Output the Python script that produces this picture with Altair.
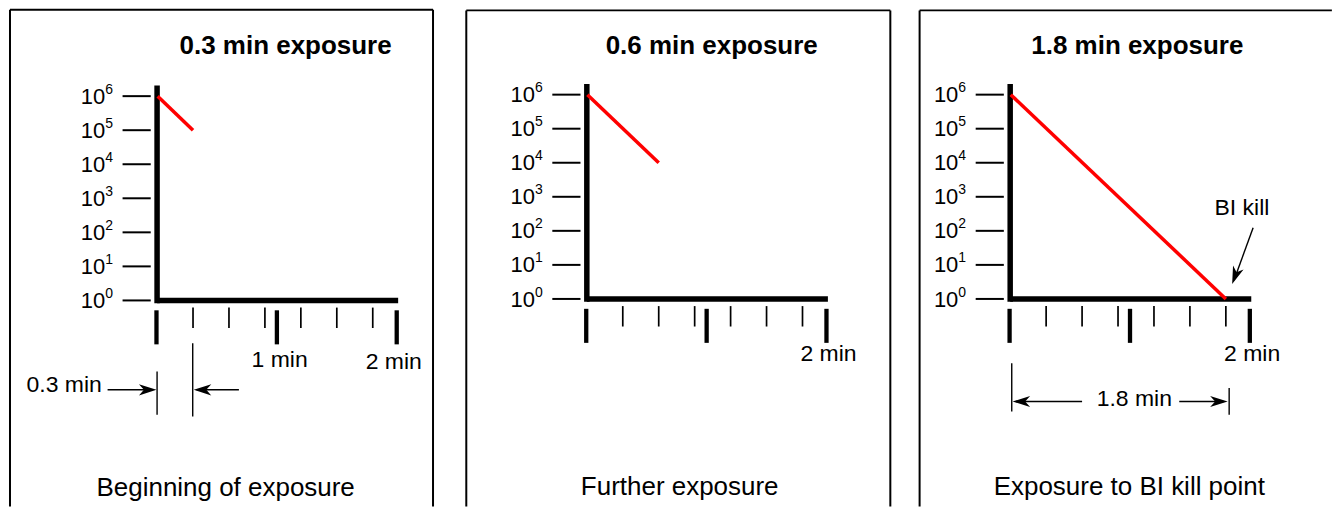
import altair as alt
import pandas as pd

# ---------------- data ----------------
panel_titles = ["0.3 min exposure", "0.6 min exposure", "1.8 min exposure"]
panel_captions = ["Beginning of exposure", "Further exposure", "Exposure to BI kill point"]
exposure_min = [0.3, 0.6, 1.8]          # length of the red survivor curve (min)
start_exponent = 6                       # 10^6 spores at t = 0
end_exponent = [5, 4, 0]                 # log10 survivors at end of exposure
y_exponents = [0, 1, 2, 3, 4, 5, 6]
major_ticks = [0, 1, 2]
minor_ticks = [0.3, 0.6, 0.9, 1.2, 1.5, 1.8]
time_axis_end = 2.012
y_axis_top = 6.31

minute_labels = [["1 min", "2 min"], ["2 min"], ["2 min"]]
minute_label_t = [[1.0225, 1.975], [2.017], [2.019]]
minute_label_e = [[-1.96, -2.02], [-1.81], [-1.81]]

# dimension annotations (data units: minutes, log10 count)
dim_lines = [
    dict(t=[-0.413, 0.683, 0.0, 0.2975], e=[-2.625, -2.625, -2.088, -1.255],
         t2=[-0.04, 0.33, 0.0, 0.2975], e2=[-2.625, -2.625, -3.358, -3.41]),
    dict(t=[], e=[], t2=[], e2=[]),
    dict(t=[0.6, 1.411, 0.013, 1.8275, 2.0275], e=[-3.012, -3.012, -1.886, -2.619, 2.091],
         t2=[0.05, 1.78, 0.013, 1.8275, 1.868], e2=[-3.012, -3.012, -3.305, -3.40, 0.55]),
]
dim_heads = [
    dict(t=[-0.005, 0.306], e=[-2.625, -2.625], a=[0, 180]),
    dict(t=[], e=[], a=[]),
    dict(t=[0.02, 1.815, 1.8525], e=[-3.012, -3.012, 0.44], a=[180, 0, 110.5]),
]
dim_texts = [
    dict(s=["0.3 min"], t=[-0.461], e=[-2.69], align=["right"]),
    dict(s=[], t=[], e=[], align=[]),
    dict(s=["1.8 min", "BI kill"], t=[1.036, 1.934], e=[-3.158, 2.463], align=["center", "center"]),
]
title_t = [1.0725, 1.042, 1.061]
title_e = [7.25, 7.205, 7.205]
caption_t = [0.5725, 0.775, 0.994]
caption_e = [-5.754, -5.768, -5.768]
box_left = [-1.2275, -1.006, -0.756]
box_right = [2.303, 2.533, None]   # third box runs off the right edge
box_top = [8.54, 8.475, 8.475]

# ---------------- layout ----------------
PX_MIN = 120.0
PX_DEC = 34.1
H = 499
view_left = [0, 445, 895]
view_w = [445, 450, 430]
origin_x = [148.3, 578.7, 1002.7]
origin_y = [292.5, 291.0, 291.0]

FONT = "Liberation Sans"
ARROW = "M0,0 L-2.1,-0.67 L-1.5,0 L-2.1,0.67 Z"


def panel(i):
    x_lo = (view_left[i] - origin_x[i]) / PX_MIN
    x_hi = (view_left[i] + view_w[i] - origin_x[i]) / PX_MIN
    y_lo = (origin_y[i] - H) / PX_DEC
    y_hi = origin_y[i] / PX_DEC
    xs = alt.Scale(domain=[x_lo, x_hi], nice=False, zero=False)
    ys = alt.Scale(domain=[y_lo, y_hi], nice=False, zero=False)

    def enc(two=False):
        d = dict(x=alt.X("t:Q", scale=xs, axis=None), y=alt.Y("e:Q", scale=ys, axis=None))
        if two:
            d.update(x2="t2:Q", y2="e2:Q")
        return d

    def rules(df, w, color="black"):
        return alt.Chart(df).mark_rule(strokeWidth=w, color=color, strokeCap="butt").encode(**enc(True))

    layers = []
    # box (top, left, right edges; bottom runs off the picture)
    right = box_right[i] if box_right[i] is not None else x_hi - 0.001
    bt = [box_left[i], box_left[i]]
    bt2 = [right, box_left[i]]
    be = [box_top[i], box_top[i]]
    be2 = [box_top[i], y_lo + 0.001]
    if box_right[i] is not None:
        bt.append(right); bt2.append(right); be.append(box_top[i]); be2.append(y_lo + 0.001)
    layers.append(rules(pd.DataFrame(dict(t=bt, t2=bt2, e=be, e2=be2)), 2))
    # y ticks
    yt = pd.DataFrame(dict(t=-0.288, t2=-0.053, e=y_exponents, e2=y_exponents))
    layers.append(rules(yt, 2))
    # x ticks
    mj = pd.DataFrame(dict(t=[float(v) for v in major_ticks], e=-0.29, e2=-1.29))
    mj["t2"] = mj["t"]
    mj.loc[0, ["t", "t2"]] = -0.005
    layers.append(rules(mj, 4.3))
    mn = pd.DataFrame(dict(t=minor_ticks, t2=minor_ticks, e=-0.21, e2=-0.81))
    layers.append(rules(mn, 1.7))
    # axes
    ax = pd.DataFrame(dict(t=[0.0, 0.0], t2=[0.0, time_axis_end],
                           e=[-0.082, 0.0], e2=[y_axis_top, 0.0]))
    layers.append(rules(ax, 5.5))
    # red survivor line
    red = pd.DataFrame(dict(t=[0.005], t2=[exposure_min[i]], e=[start_exponent], e2=[end_exponent[i]]))
    layers.append(rules(red, 3.5, "#ff0000"))
    # y labels
    yl = pd.DataFrame(dict(t=-0.433, e=y_exponents, s="10", sup=[str(v) for v in y_exponents]))
    layers.append(alt.Chart(yl).mark_text(align="right", baseline="alphabetic", dy=7.6,
                                          font=FONT, fontSize=22, color="black")
                  .encode(text="s:N", **enc()))
    layers.append(alt.Chart(yl).mark_text(align="left", baseline="alphabetic", dy=-2.4,
                                          font=FONT, fontSize=14, color="black")
                  .encode(text="sup:N", **enc()))
    # minute labels
    ml = pd.DataFrame(dict(s=minute_labels[i], t=minute_label_t[i], e=minute_label_e[i]))
    layers.append(alt.Chart(ml).mark_text(align="center", baseline="alphabetic",
                                          font=FONT, fontSize=23, color="black")
                  .encode(text="s:N", **enc()))
    # title & caption
    tt = pd.DataFrame(dict(s=[panel_titles[i]], t=[title_t[i]], e=[title_e[i]]))
    layers.append(alt.Chart(tt).mark_text(align="center", baseline="alphabetic", font=FONT,
                                          fontSize=26, fontWeight="bold", color="black")
                  .encode(text="s:N", **enc()))
    cp = pd.DataFrame(dict(s=[panel_captions[i]], t=[caption_t[i]], e=[caption_e[i]]))
    layers.append(alt.Chart(cp).mark_text(align="center", baseline="alphabetic", font=FONT,
                                          fontSize=26, color="black")
                  .encode(text="s:N", **enc()))
    # dimension annotations
    if dim_lines[i]["t"]:
        layers.append(rules(pd.DataFrame(dim_lines[i]), 1.4))
        layers.append(alt.Chart(pd.DataFrame(dim_heads[i]))
                      .mark_point(shape=ARROW, size=280, filled=True, fill="black",
                                  strokeWidth=0, opacity=1)
                      .encode(angle=alt.Angle("a:Q", scale=None), **enc()))
        dt = pd.DataFrame(dim_texts[i])
        for al in sorted(set(dt["align"])):
            sub = dt[dt["align"] == al]
            layers.append(alt.Chart(sub).mark_text(align=al, baseline="alphabetic", font=FONT,
                                                   fontSize=23, color="black")
                          .encode(text="s:N", **enc()))
    return alt.layer(*layers).properties(width=view_w[i], height=H)


chart = alt.hconcat(panel(0), panel(1), panel(2), spacing=0, bounds="flush").properties(
    padding=0, background="white"
).configure_view(stroke=None)

chart.save("out.html", embed_options={"renderer": "svg", "actions": False})
